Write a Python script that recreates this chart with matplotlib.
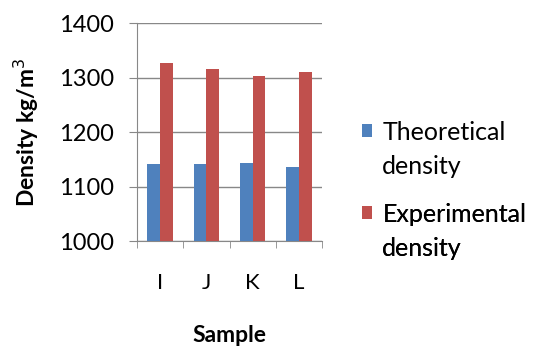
import matplotlib
matplotlib.use("Agg")
import matplotlib.pyplot as plt
from matplotlib.patches import Patch
import numpy as np

samples = ["I", "J", "K", "L"]
theoretical = [1141, 1141, 1144, 1136]
experimental = [1327, 1315, 1303, 1310]
yticks = [1000, 1100, 1200, 1300, 1400]
series_names = [("Theoretical", "density"), ("Experimental", "density")]
colors = ["#4F81BD", "#C0504D"]

plt.rcParams['font.family'] = ['Lato', 'DejaVu Sans']

fig = plt.figure(figsize=(5.35, 3.5), dpi=100)
ax = fig.add_axes([0.256, 0.311, 0.346, 0.623])

x = np.arange(len(samples))
w = 0.275
ax.bar(x - w/2, theoretical, w, color=colors[0], zorder=3)
ax.bar(x + w/2, experimental, w, color=colors[1], zorder=3)

ax.set_xlim(-0.5, len(samples) - 0.5)
ax.set_ylim(1000, 1400)
ax.set_yticks(yticks)
ax.set_yticklabels([str(v) for v in yticks], fontsize=17)
ax.set_xticks(x)
ax.set_xticklabels(samples, fontsize=16)
ax.set_xticks(np.arange(len(samples) + 1) - 0.5, minor=True)
ax.tick_params(axis='x', which='major', length=0, pad=23)
ax.tick_params(axis='x', which='minor', length=5, color="#888888", direction='out')
ax.tick_params(axis='y', length=5.5, color="#888888", direction='out', pad=11)
ax.grid(axis='y', color="#888888", linewidth=1, zorder=0)
for s in ['top', 'right']:
    ax.spines[s].set_visible(False)
for s in ['left', 'bottom']:
    ax.spines[s].set_color("#888888")
ax.set_ylabel("Density kg/m$^3$", fontsize=16.5, fontweight='bold', labelpad=13)
ax.set_xlabel("Sample", fontsize=16.5, fontweight='bold', labelpad=23)

tops = [0.552, 0.176]
for (l1, l2), c, top in zip(series_names, colors, tops):
    handles = [Patch(facecolor=c, edgecolor='none'), Patch(facecolor='none', edgecolor='none')]
    leg = ax.legend(handles, [l1, l2], loc='upper left', bbox_to_anchor=(1.215, top),
                    frameon=False, fontsize=18, handlelength=0.42, handleheight=0.42,
                    handletextpad=0.4, labelspacing=0.45, borderpad=0, borderaxespad=0)
    ax.add_artist(leg)

fig.savefig("out.png", dpi=100)
